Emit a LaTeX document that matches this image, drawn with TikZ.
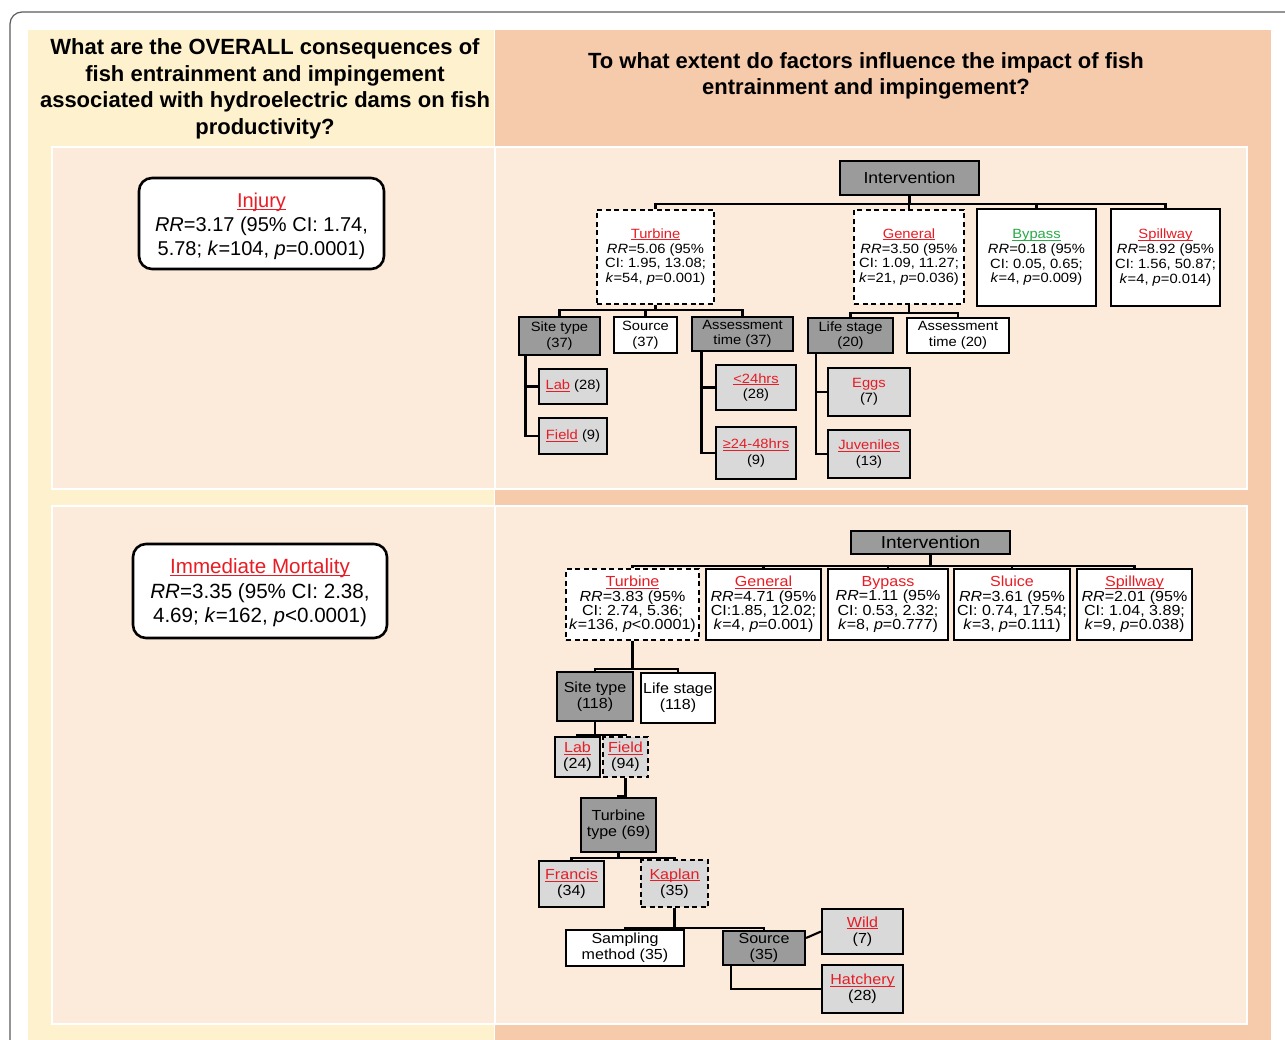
\documentclass[tikz,border=0pt]{standalone}
\usepackage{fontspec}
\setmainfont{Liberation Sans}
\newfontfamily\tfont[FakeStretch=1.1]{Liberation Sans}
\definecolor{yel}{RGB}{254,241,205}
\definecolor{pch}{RGB}{246,203,171}
\definecolor{pnl}{RGB}{252,234,218}
\definecolor{dk}{RGB}{155,155,155}
\definecolor{lt}{RGB}{217,217,217}
\definecolor{rd}{RGB}{232,28,36}
\definecolor{gn}{RGB}{40,170,70}
\definecolor{frm}{RGB}{90,90,90}
\newsavebox\ubox
\newcommand\uln[1]{\sbox\ubox{#1}\rlap{\rule[-2pt]{\wd\ubox}{0.9pt}}\usebox\ubox}
\newcommand\ru[1]{\textcolor{rd}{\uln{#1}}}
\newcommand\rn[1]{\textcolor{rd}{#1}}
\newcommand\gu[1]{\textcolor{gn}{\uln{#1}}}
\newcommand\ix[1]{\textit{#1}}
\tikzset{
  box/.style={draw, line width=2.1pt, inner sep=0pt, align=center, anchor=center},
  dark/.style={box, fill=dk},
  light/.style={box, fill=lt},
  wbox/.style={box, fill=white},
  dsh/.style={dash pattern=on 5pt off 3.5pt},
  conn/.style={line width=2.1pt},
  tbig/.style={font=\tfont\fontsize{13.4}{14.8}\selectfont},
  tsm/.style={font=\tfont\fontsize{13.4}{15.5}\selectfont},
  bbig/.style={font=\tfont\fontsize{14.6}{14.4}\selectfont},
  bsm/.style={font=\tfont\fontsize{14.6}{16.2}\selectfont},
  rbox/.style={draw, line width=2.6pt, rounded corners=13pt, fill=white, inner sep=0pt, align=center, anchor=center},
  hdr/.style={font=\bfseries\fontsize{22}{26.4}\selectfont, align=center, inner sep=0pt}
}
\begin{document}
\begin{tikzpicture}[x=1pt,y=-1pt]
\useasboundingbox (0,0) rectangle (1285,1040);
% backgrounds
\fill[yel] (28,30) rectangle (494,1040);
\fill[pch] (494,30) rectangle (1271,1040);
\draw[white, line width=1pt] (494.5,30) -- (494.5,1040);
\filldraw[fill=pnl, draw=white, line width=2pt] (52,147) rectangle (494.5,489);
\filldraw[fill=pnl, draw=white, line width=2pt] (494.5,147) rectangle (1247,489);
\filldraw[fill=pnl, draw=white, line width=2pt] (52,506) rectangle (494.5,1024);
\filldraw[fill=pnl, draw=white, line width=2pt] (494.5,506) rectangle (1247,1024);
\draw[frm, line width=1.2pt, rounded corners=12pt] (10,1060) -- (10,12) -- (1300,12);

% headers
\node[hdr] (hl) at (265,88.8) {What are the OVERALL consequences of\\fish entrainment and impingement\\associated with hydroelectric dams on fish\\productivity?};
\node[hdr] (hr) at (866,75.8) {To what extent do factors influence the impact of fish\\entrainment and impingement?};

% left boxes
\node[rbox, minimum width=245pt, minimum height=91pt, font=\fontsize{20}{24}\selectfont] (lInj) at (261.5,223.5)
  {\rule{0pt}{20.6pt}\ru{Injury}\\\ix{RR}=3.17 (95\% CI: 1.74,\\5.78; \ix{k}=104, \ix{p}=0.0001)};
\node[rbox, minimum width=254pt, minimum height=94pt, font=\fontsize{20.6}{24.6}\selectfont] (lImm) at (260,591)
  {\rule{0pt}{19pt}\ru{Immediate Mortality}\\\ix{RR}=3.35 (95\% CI: 2.38,\\4.69; \ix{k}=162, \ix{p}<0.0001)};

% ---------- top tree ----------
\node[dark, minimum width=139pt, minimum height=34pt, font=\tfont\fontsize{16}{18}\selectfont] (tInt) at (909.5,178) {Intervention};
\node[wbox, dsh, tbig, minimum width=117pt, minimum height=94pt] (tTur) at (655.5,257)
  {\ru{Turbine}\\\ix{RR}=5.06 (95\%\\CI: 1.95, 13.08;\\\ix{k}=54, \ix{p}=0.001)};
\node[wbox, dsh, tbig, minimum width=110pt, minimum height=94pt] (tGen) at (909,257)
  {\ru{General}\\\ix{RR}=3.50 (95\%\\CI: 1.09, 11.27;\\\ix{k}=21, \ix{p}=0.036)};
\node[wbox, tbig, minimum width=119pt, minimum height=97pt] (tByp) at (1036.5,257.5)
  {\gu{Bypass}\\\ix{RR}=0.18 (95\%\\CI: 0.05, 0.65;\\\ix{k}=4, \ix{p}=0.009)};
\node[wbox, tbig, minimum width=109pt, minimum height=97pt] (tSpi) at (1165.5,257.5)
  {\ru{Spillway}\\\ix{RR}=8.92 (95\%\\CI: 1.56, 50.87;\\\ix{k}=4, \ix{p}=0.014)};
\node[dark, tsm, minimum width=81pt, minimum height=38pt] (tSite) at (559.5,336) {Site type\\(37)};
\node[wbox, tsm, minimum width=63pt, minimum height=36pt] (tSrc) at (645.5,335) {Source\\(37)};
\node[dark, tsm, minimum width=101pt, minimum height=34pt] (tAss) at (742.5,334) {Assessment\\time (37)};
\node[dark, tsm, minimum width=85pt, minimum height=35pt] (tLife) at (850.5,335.5) {Life stage\\(20)};
\node[wbox, tsm, minimum width=102pt, minimum height=35pt] (tAss2) at (958,335.5) {Assessment\\time (20)};
\node[light, tsm, minimum width=68pt, minimum height=35pt] (tLab) at (573,386.5) {\ru{Lab} (28)};
\node[light, tsm, minimum width=68pt, minimum height=36pt] (tField) at (573,436) {\ru{Field} (9)};
\node[light, tsm, minimum width=80pt, minimum height=45pt] (tLt) at (756,387.5) {\ru{<24hrs}\\(28)};
\node[light, tsm, minimum width=80pt, minimum height=52pt] (tGe) at (756,453) {\ru{≥24-48hrs}\\(9)};
\node[light, tsm, minimum width=82pt, minimum height=48pt] (tEggs) at (869,392) {\rn{Eggs}\\(7)};
\node[light, tsm, minimum width=82pt, minimum height=48pt] (tJuv) at (869,454) {\ru{Juveniles}\\(13)};

\foreach \c in {tTur,tGen,tByp,tSpi} \draw[conn] (tInt.south) -- ++(0,8) -| (\c.north);
\foreach \c in {tSite,tSrc,tAss} \draw[conn] (tTur.south) -- ++(0,5) -| (\c.north);
\foreach \c in {tLife,tAss2} \draw[conn] (tGen.south) -- ++(0,8) -| (\c.north);
\foreach \c in {tLab,tField} \draw[conn] ([xshift=7.5pt]tSite.south west) |- (\c.west);
\foreach \c in {tLt,tGe} \draw[conn] ([xshift=10.5pt]tAss.south west) |- (\c.west);
\foreach \c in {tEggs,tJuv} \draw[conn] ([xshift=9pt]tLife.south west) |- (\c.west);

% ---------- bottom tree ----------
\node[dark, minimum width=159pt, minimum height=23pt, font=\tfont\fontsize{17.3}{19}\selectfont] (bInt) at (930.5,542.5) {Intervention};
\node[wbox, dsh, bbig, minimum width=133pt, minimum height=71pt] (bTur) at (632.5,604.5)
  {\ru{Turbine}\\\ix{RR}=3.83 (95\%\\CI: 2.74, 5.36;\\\ix{k}=136, \ix{p}<0.0001)};
\node[wbox, bbig, minimum width=115pt, minimum height=71pt] (bGen) at (763.5,604.5)
  {\ru{General}\\\ix{RR}=4.71 (95\%\\CI:1.85, 12.02;\\\ix{k}=4, \ix{p}=0.001)};
\node[wbox, bbig, minimum width=120pt, minimum height=71pt] (bByp) at (888,604.5)
  {\rn{Bypass}\\\ix{RR}=1.11 (95\%\\CI: 0.53, 2.32;\\\ix{k}=8, \ix{p}=0.777)};
\node[wbox, bbig, minimum width=116pt, minimum height=71pt] (bSlu) at (1012,604.5)
  {\rn{Sluice}\\\ix{RR}=3.61 (95\%\\CI: 0.74, 17.54;\\\ix{k}=3, \ix{p}=0.111)};
\node[wbox, bbig, minimum width=115pt, minimum height=71pt] (bSpi) at (1134.5,604.5)
  {\ru{Spillway}\\\ix{RR}=2.01 (95\%\\CI: 1.04, 3.89;\\\ix{k}=9, \ix{p}=0.038)};
\node[dark, bsm, minimum width=76pt, minimum height=49pt] (bSite) at (595,696.5) {Site type\\(118)};
\node[wbox, bsm, minimum width=74pt, minimum height=50pt] (bLife) at (678,698) {Life stage\\(118)};
\node[light, bsm, minimum width=45pt, minimum height=40pt] (bLab) at (577.5,757) {\ru{Lab}\\(24)};
\node[light, dsh, bsm, minimum width=45pt, minimum height=40pt] (bField) at (625.5,757) {\ru{Field}\\(94)};
\node[dark, bsm, minimum width=75pt, minimum height=54pt] (bTT) at (618.5,825) {Turbine\\type (69)};
\node[light, bsm, minimum width=65pt, minimum height=46pt] (bFra) at (571.5,884) {\ru{Francis}\\(34)};
\node[light, dsh, bsm, minimum width=67pt, minimum height=47pt] (bKap) at (674.5,883.5) {\ru{Kaplan}\\(35)};
\node[wbox, bsm, minimum width=118pt, minimum height=36pt] (bSam) at (625,948) {Sampling\\method (35)};
\node[dark, bsm, minimum width=82pt, minimum height=34pt] (bSrc) at (764,948) {Source\\(35)};
\node[light, bsm, minimum width=81pt, minimum height=45pt] (bWild) at (862.5,931.5) {\ru{Wild}\\(7)};
\node[light, bsm, minimum width=81pt, minimum height=48pt] (bHat) at (862.5,989) {\ru{Hatchery}\\(28)};

\foreach \c in {bTur,bGen,bByp,bSlu,bSpi} \draw[conn] (bInt.south) -- ++(0,11) -| (\c.north);
\foreach \c in {bSite,bLife} \draw[conn] (bTur.south) -- ++(0,28) -| (\c.north);
\foreach \c in {bLab,bField} \draw[conn] (bSite.south) -- ++(0,13) -| (\c.north);
\draw[conn] (bField.south) -- ++(0,18) -| (bTT.north);
\foreach \c in {bFra,bKap} \draw[conn] (bTT.south) -- ++(0,5) -| (\c.north);
\foreach \c in {bSam,bSrc} \draw[conn] (bKap.south) -- ++(0,20) -| (\c.north);
\draw[conn] ([yshift=10pt]bSrc.east) -- (bWild.west);
\draw[conn] ([xshift=9pt]bSrc.south west) |- (bHat.west);
\end{tikzpicture}
\end{document}
